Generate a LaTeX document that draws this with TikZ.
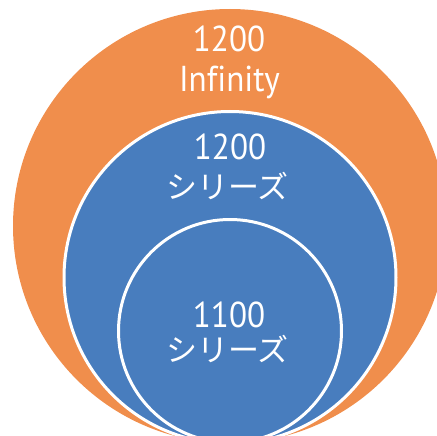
\documentclass[tikz,border=0pt]{standalone}
\usepackage{fontspec}
\newfontfamily\numfont[FakeStretch=0.92,Ligatures=NoCommon]{PT Sans}
\newfontfamily\jpfont{Noto Sans CJK JP}
\definecolor{ringorange}{RGB}{240,142,76}
\definecolor{ringblue}{RGB}{72,125,190}

\begin{document}
\begin{tikzpicture}[x=1pt,y=-1pt,
    ring/.style={fill=ringblue, draw=white, line width=3pt},
    numlabel/.style={anchor=base, text=white, inner sep=0pt, font=\numfont\fontsize{36}{36}\selectfont},
    jplabel/.style={anchor=base, text=white, inner sep=0pt, font=\jpfont\fontsize{31}{31}\selectfont}]
        % \draw[help lines, gray!50, very thin] (0,0) grid[step=50] (437,436);
        \useasboundingbox (0,0) rectangle (437,436);
        \clip (0,0) rectangle (437,436);

        \fill[ringorange] (230,226) circle[radius=217pt];
        \draw[ring] (230,277.5) circle[radius=166pt];
        \draw[ring] (230,331) circle[radius=111.5pt];

        \node[numlabel] (infnum) at (229,52) {1200};
        \node[numlabel] (infname) at (229.5,92) {Infinity};

        \node[numlabel] (midnum) at (230,160) {1200};
        \node[jplabel] (midname) at (227.5,198) {シリーズ};

        \node[numlabel] (innum) at (229,327) {1100};
        \node[jplabel] (inname) at (227.5,361) {シリーズ};
      \end{tikzpicture}
\end{document}
